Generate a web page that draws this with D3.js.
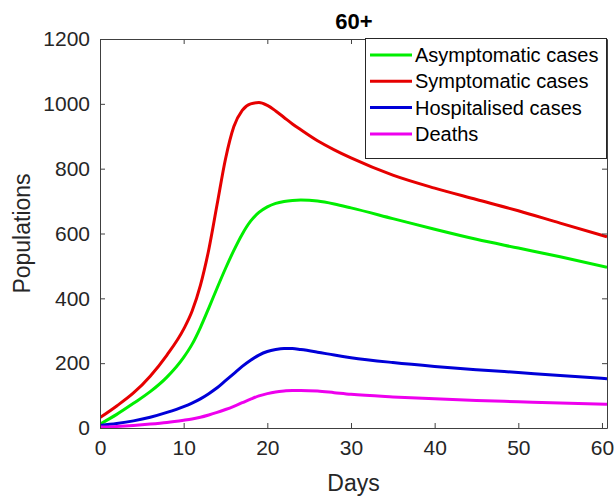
<!DOCTYPE html>
<html>
<head>
<meta charset="utf-8">
<script src="https://cdn.jsdelivr.net/npm/d3@7"></script>
<style>
  body { margin: 0; background: #fff; }
  text { font-family: "Liberation Sans", Arial, sans-serif; fill: #262626; }
</style>
</head>
<body>
<svg id="chart" width="615" height="497"></svg>
<script>
// values (days and populations)
const days = [0, 2, 4, 6, 8, 10, 11, 12, 13, 14, 15, 16, 17, 18, 19, 20, 21, 22, 23, 24, 26, 28, 30, 35, 40, 45, 50, 55, 60.6];
const asymptomatic = [12, 42, 76, 112, 157, 218, 258, 310, 370, 432, 492, 548, 598, 638, 665, 682, 693, 699, 702, 703, 700, 691, 679, 646, 613, 582, 555, 528, 496];
const symptomatic = [32, 68, 108, 160, 225, 305, 360, 440, 550, 690, 830, 930, 980, 1000, 1004, 995, 978, 958, 938, 920, 886, 858, 833, 780, 740, 705, 670, 632, 590];
const hospitalised = [8, 14, 22, 33, 48, 66, 77, 90, 106, 124, 146, 168, 190, 209, 225, 236, 242, 245, 245, 242, 234, 225, 217, 202, 190, 180, 171, 162, 152];
const deaths = [3, 5, 8, 12, 17, 24, 28, 33, 40, 48, 57, 67, 78, 89, 99, 106, 111, 114, 116, 116, 114, 109, 104, 96, 90, 85, 81, 77, 73];

const seriesNames = ["Asymptomatic cases", "Symptomatic cases", "Hospitalised cases", "Deaths"];
const seriesValues = [asymptomatic, symptomatic, hospitalised, deaths];
const seriesColors = ["#00ee00", "#e60000", "#0000d8", "#ee00ee"];

const xTicks = [0, 10, 20, 30, 40, 50, 60];
const yTicks = [0, 200, 400, 600, 800, 1000, 1200];

const plotLeft = 100, plotTop = 39, plotRight = 607, plotBottom = 428;

const svg = d3.select("#chart");

let x = d3.scaleLinear().domain([0, 60.6]).range([plotLeft, plotRight]);
let y = d3.scaleLinear().domain([0, 1200]).range([plotBottom, plotTop]);

// lines first, axes box on top
const line = d3.line()
  .x((d, i) => x(days[i]))
  .y(d => y(d))
  .curve(d3.curveMonotoneX);

const plot = svg.append("g");
plot.append("clipPath").attr("id", "clip")
  .append("rect").attr("x", plotLeft).attr("y", plotTop)
  .attr("width", plotRight - plotLeft).attr("height", plotBottom - plotTop);

seriesValues.forEach((vals, k) => {
  plot.append("path")
    .datum(vals)
    .attr("clip-path", "url(#clip)")
    .attr("fill", "none")
    .attr("stroke", seriesColors[k])
    .attr("stroke-width", 3)
    .attr("d", line);
});

// axes (MATLAB style: box with inward ticks)
function styleAxis(g) {
  g.select(".domain").attr("stroke", "#404040").attr("stroke-width", 1);
  g.selectAll(".tick line").attr("stroke", "#404040");
  g.selectAll(".tick text").attr("fill", "#262626").style("font-size", "21px")
    .style("font-family", "'Liberation Sans', Arial, sans-serif");
}

svg.append("g")
  .attr("transform", `translate(0,${plotBottom})`)
  .call(d3.axisBottom(x).tickValues(xTicks).tickFormat(d3.format("d")).tickSize(-5).tickPadding(12).tickSizeOuter(0))
  .call(styleAxis);

svg.append("g")
  .attr("transform", `translate(0,${plotTop})`)
  .call(d3.axisTop(x).tickValues(xTicks).tickSize(-5).tickFormat("").tickSizeOuter(0))
  .call(styleAxis);

svg.append("g")
  .attr("transform", `translate(${plotLeft},0)`)
  .call(d3.axisLeft(y).tickValues(yTicks).tickFormat(d3.format("d")).tickSize(-5).tickPadding(10).tickSizeOuter(0))
  .call(styleAxis);

svg.append("g")
  .attr("transform", `translate(${plotRight},0)`)
  .call(d3.axisRight(y).tickValues(yTicks).tickSize(-5).tickFormat("").tickSizeOuter(0))
  .call(styleAxis);

// title and axis labels
svg.append("text")
  .attr("x", 354).attr("y", 29)
  .attr("text-anchor", "middle")
  .style("font-size", "22px").style("font-weight", "bold")
  .style("fill", "#000")
  .text("60+");

svg.append("text")
  .attr("x", (plotLeft + plotRight) / 2).attr("y", 491)
  .attr("text-anchor", "middle")
  .style("font-size", "23px")
  .text("Days");

svg.append("text")
  .attr("transform", `translate(30,${(plotTop + plotBottom) / 2}) rotate(-90)`)
  .attr("text-anchor", "middle")
  .style("font-size", "23px")
  .text("Populations");

// legend
const legend = svg.append("g");
legend.append("rect")
  .attr("x", 365.5).attr("y", 38.5)
  .attr("width", 241).attr("height", 120)
  .attr("fill", "#fff")
  .attr("stroke", "#262626")
  .attr("stroke-width", 1);

seriesNames.forEach((name, k) => {
  const cy = 55 + k * 26.3;
  legend.append("line")
    .attr("x1", 370).attr("x2", 412)
    .attr("y1", cy).attr("y2", cy)
    .attr("stroke", seriesColors[k])
    .attr("stroke-width", 3);
  legend.append("text")
    .attr("x", 415).attr("y", cy + 7)
    .style("font-size", "20px")
    .style("fill", "#000")
    .text(name);
});
</script>
</body>
</html>
